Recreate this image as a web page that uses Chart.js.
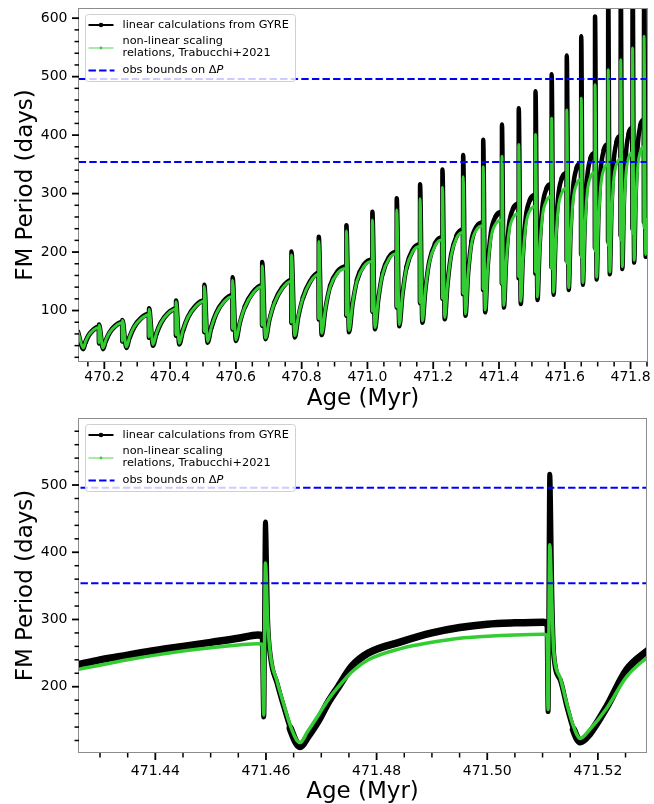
<!DOCTYPE html>
<html><head><meta charset="utf-8">
<script src="https://cdn.jsdelivr.net/npm/chart.js@4.4.1/dist/chart.umd.min.js"></script>
<style>
html,body{margin:0;padding:0;background:#fff;width:654px;height:804px;overflow:hidden}
canvas{position:absolute;left:0}
#c1{top:0}#c2{top:402px}
</style></head><body>
<canvas id="c1" width="654" height="420"></canvas>
<canvas id="c2" width="654" height="402"></canvas>
<script>
// ---------------- DATA ----------------
// Top panel: age (Myr), GYRE linear period (days), Trabucchi+2021 non-linear period (days)
const topAge = [
470.120,470.136,470.143,470.1525,470.1665,
470.183,470.1836,470.184,470.196,470.2047,470.2163,470.2337,
470.254,470.2546,470.255,470.267,470.2772,470.2908,470.3112,
470.335,470.3356,470.336,470.348,470.3584,470.3722,470.3929,
470.417,470.4176,470.418,470.428,470.4393,470.4543,470.4768,
470.503,470.5036,470.504,470.514,470.5253,470.5403,470.5628,
470.589,470.5896,470.590,470.600,470.6119,470.6277,470.6514,
470.679,470.6796,470.680,470.690,470.7017,470.7173,470.7407,
470.768,470.7686,470.769,470.779,470.7898,470.8042,470.8258,
470.851,470.8516,470.852,470.861,470.8721,470.8869,470.9091,
470.935,470.9356,470.936,470.944,470.9545,470.9685,470.9895,
471.014,471.0146,471.015,471.023,471.0328,471.0458,471.0653,
471.088,471.0886,471.089,471.097,471.1063,471.1187,471.1373,
471.159,471.1596,471.160,471.167,471.176,471.188,471.206,
471.227,471.2276,471.228,471.235,471.2433,471.2543,471.2708,
471.290,471.2906,471.291,471.298,471.306,471.3166,471.3325,
471.351,471.3516,471.352,471.358,471.3655,471.3755,471.3905,
471.408,471.4086,471.409,471.415,471.4216,471.4304,471.4436,
471.459,471.4596,471.460,471.4662,471.4728,471.4815,471.4947,
471.510,471.5106,471.511,471.517,471.5233,471.5317,471.5443,
471.559,471.5596,471.560,471.566,471.5719,471.5797,471.5914,
471.605,471.6056,471.606,471.612,471.6176,471.625,471.636,
471.649,471.6496,471.650,471.655,471.6604,471.6676,471.6784,
471.691,471.6916,471.692,471.697,471.7021,471.7089,471.7191,
471.731,471.7316,471.732,471.737,471.7418,471.7482,471.7578,
471.769,471.7696,471.770,471.775,471.7795,471.7855,471.7945,
471.805,471.8056,471.806,471.811,471.8154,471.8212,471.8298,
471.840,471.8406,471.841,471.846,471.852
];
const topGyre = [
64,34,46.2,57.6,67.1,
72,43.5,76,34,48.7,62.5,74,
80,47,84,36,54.6,72,86.5,
94,53.5,104,40,60.2,79.1,94.8,
103,57,117,42,66,88.5,107.3,
117,63,144,45,70.9,95.2,115.5,
126,67.5,157,48,78.4,106.9,130.7,
143,74,183,51,83.3,113.6,138.9,
152,78.5,201,54,89.2,122.2,149.7,
164,84.5,226,58,102.5,142.2,166.8,
175,91,246,63,110.1,152.3,178.3,
187,98,269,68,118.2,163,190.8,
200,105,292,73,126.2,173.8,203.2,
213,112.5,316,79,134.5,184.1,214.8,
225,120,341,85,143.1,195.2,227.3,
238,128,366,91,162.6,218.2,243.6,
250,135,392,97,174,233.8,261.2,
268,146,418,105,184.7,246.6,274.9,
282,155,446,111,194.7,259.8,289.6,
297,163,475,118,207.1,276.4,308,
316,174,504,127,220.6,293.4,326.7,
335,185,536,135,232.7,308.6,343.3,
352,196,569,144,245.3,324,360,
369,207,603,153,257,337.8,374.8,
384,217.5,650,162,268.2,350.8,388.6,
398,228,680,171,279.5,363.8,402.4,
412,239.5,710,182,291.8,377.2,416.2,
426,250.5,740,192,268
];
const topTrab = [
63,36,47.2,57.7,66.5,
71,45,75,36,49.8,62.7,73.4,
79,48,83,38,55.6,72.1,85.9,
93,55,102,42,61.2,79.2,94.2,
102,58.5,115,44,67,88.6,106.6,
116,64,141,47,71.6,94.7,114,
124,68.5,152,50,79.1,106.4,129.2,
141,75,176,53,84,113.1,137.4,
150,80,195,57,90.6,122.1,148.4,
162,86,218,61,103.2,140.9,164.2,
172,92.5,236,66,110.8,151,175.7,
184,99,255,71,118.9,161.7,188.2,
197,106,272,76,126.9,172.5,200.6,
210,114,291,82,134.8,182.1,211.3,
221,121,311,88,143.5,193.1,223.8,
234,129,329,94,162,214.8,239,
245,137,346,101,170.3,224.2,248.8,
255,146,364,109,179.7,234.6,259.7,
266,158,384,116,188.9,245.6,271.5,
278,166,401,123,200.4,260.6,288,
295,172,429,131,211.1,273.4,301.9,
309,181.5,443,139,222.3,287,316.6,
324,192,463,148,232.6,298.4,328.5,
336,202,486,157,243.9,311.4,342.3,
350,212,512,166,252.9,320.4,351.3,
359,221,529,175,262.8,331,362.2,
370,232,549,186,273.3,341.2,372.2,
380,242,569,196,256
];
// Bottom panel (zoom on two pulsation cycles)
const botAge = [
471.4255,471.430,471.435,471.440,471.445,471.450,471.455,471.4585,471.4593,
471.4596,471.4599,471.4603,471.4608,471.4620,471.4632,471.4644,471.4656,471.4662,
471.4675,471.4695,471.4712,471.4731,471.4755,471.4785,471.4845,471.490,471.495,
471.500,471.505,471.5102,471.5108,471.5110,471.5113,471.5117,471.5120,471.5132,
471.5144,471.5156,471.5168,471.5185,471.5216,471.5252,471.5295
];
const botGyre = [
232,240,247,254,260,266,272,277,276,
155,445,300,245,205,170,138,115,111,
125,150,176,200,230,250,267,280,288,
293,295,296,294,163,516,330,250,210,
170,136,118,130,170,225,257
];
const botTrab = [
225,232,240,247,253,258,262,264,263,
158,384,300,248,208,174,142,120,117,
133,158,180,200,222,240,257,266,272,
275,277,278,276,166,411,320,255,213,
174,141,123,136,168,215,248
];
const obsBounds = [354, 496];
const topXTicks = [470.2,470.4,470.6,470.8,471.0,471.2,471.4,471.6,471.8];
const topXMinor = [470.15,470.25,470.3,470.35,470.45,470.5,470.55,470.65,470.7,470.75,470.85,470.9,470.95,471.05,471.1,471.15,471.25,471.3,471.35,471.45,471.5,471.55,471.65,471.7,471.75,471.85];
const topYTicks = [100,200,300,400,500,600];
const topYMinor = [20,40,60,80,120,140,160,180,220,240,260,280,320,340,360,380,420,440,460,480,520,540,560,580];
const botXTicks = [471.44,471.46,471.48,471.50,471.52];
const botXMinor = [471.43,471.435,471.445,471.45,471.455,471.465,471.47,471.475,471.485,471.49,471.495,471.505,471.51,471.515,471.525];
const botYTicks = [200,300,400,500];
const botYMinor = [120,140,160,180,220,240,260,280,320,340,360,380,420,440,460,480,520,540,560,580];
const legendText = ['linear calculations from GYRE','non-linear scaling','relations, Trabucchi+2021','obs bounds on \u0394'];
const xTitle = 'Age (Myr)';
const yTitle = 'FM Period (days)';

// ---------------- drawing ----------------
const FONT = '"DejaVu Sans", sans-serif';
function pts(xs, ys){ return xs.map((x,i)=>({x:x, y:ys[i]})); }

const mpl = {
  id:'mpl',
  afterDraw(chart, args, o){
    const ctx = chart.ctx, a = chart.chartArea;
    const xs = chart.scales.x, ys = chart.scales.y;
    ctx.save();
    // legend
    const L = o.legend;
    ctx.beginPath();
    if (ctx.roundRect) ctx.roundRect(L.x+0.5, L.y+0.5, L.w, L.h, 3); else ctx.rect(L.x+0.5, L.y+0.5, L.w, L.h);
    ctx.fillStyle = 'rgba(255,255,255,0.8)'; ctx.fill();
    ctx.strokeStyle = '#d0d0d0'; ctx.lineWidth = 1; ctx.stroke();
    const hx0 = L.x+3.5, hx1 = L.x+28.5, hm = (hx0+hx1)/2;
    ctx.lineCap = 'butt';
    ctx.strokeStyle = '#000'; ctx.lineWidth = 2;
    ctx.beginPath(); ctx.moveTo(hx0, L.y+11); ctx.lineTo(hx1, L.y+11); ctx.stroke();
    ctx.fillStyle = '#000'; ctx.beginPath(); ctx.arc(hm, L.y+11, 2.3, 0, 2*Math.PI); ctx.fill();
    ctx.strokeStyle = '#95e495'; ctx.lineWidth = 1.6;
    ctx.beginPath(); ctx.moveTo(hx0, L.y+34); ctx.lineTo(hx1, L.y+34); ctx.stroke();
    ctx.fillStyle = '#3ccc3c'; ctx.beginPath(); ctx.arc(hm, L.y+34, 1.4, 0, 2*Math.PI); ctx.fill();
    ctx.strokeStyle = '#0000ff'; ctx.lineWidth = 2; ctx.setLineDash([7.4,3.2]);
    ctx.beginPath(); ctx.moveTo(hx0, L.y+56.5); ctx.lineTo(hx1+1, L.y+56.5); ctx.stroke();
    ctx.setLineDash([]);
    ctx.fillStyle = '#000'; ctx.textAlign = 'left'; ctx.textBaseline = 'middle';
    ctx.font = '11.3px ' + FONT;
    const tx = L.x + 37.5;
    ctx.fillText(legendText[0], tx, L.y+11);
    ctx.fillText(legendText[1], tx, L.y+27.5);
    ctx.fillText(legendText[2], tx, L.y+39.5);
    ctx.fillText(legendText[3], tx, L.y+56.5);
    const w3 = ctx.measureText(legendText[3]).width;
    ctx.font = 'italic 11.3px ' + FONT;
    ctx.fillText('P', tx + w3, L.y+56.5);
    // frame
    ctx.strokeStyle = '#8c8c8c'; ctx.lineWidth = 1;
    ctx.strokeRect(Math.round(a.left)-0.5, Math.round(a.top)+0.5, Math.round(a.right-a.left)+1, Math.round(a.bottom-a.top)-1);
    // ticks
    ctx.strokeStyle = '#000';
    const drawX = (vals, len, lw) => { ctx.lineWidth = lw; vals.forEach(v=>{ const p = xs.getPixelForValue(v); if (p < a.left-0.5 || p > a.right+0.5) return; ctx.beginPath(); ctx.moveTo(p, a.bottom); ctx.lineTo(p, a.bottom+len); ctx.stroke(); }); };
    const drawY = (vals, len, lw) => { ctx.lineWidth = lw; vals.forEach(v=>{ const p = ys.getPixelForValue(v); if (p < a.top-0.5 || p > a.bottom+0.5) return; ctx.beginPath(); ctx.moveTo(a.left, p); ctx.lineTo(a.left-len, p); ctx.stroke(); }); };
    drawX(o.xMajor, 7, 1.8); drawX(o.xMinor, 4.5, 1.5);
    drawY(o.yMajor, 7, 1.8); drawY(o.yMinor, 4.5, 1.5);
    // axis titles
    ctx.fillStyle = '#000'; ctx.font = '23px ' + FONT; ctx.textBaseline = 'alphabetic'; ctx.textAlign = 'center';
    ctx.fillText(xTitle, (a.left+a.right)/2, o.xTitleY);
    ctx.translate(o.yTitleX, (a.top+a.bottom)/2); ctx.rotate(-Math.PI/2);
    ctx.fillText(yTitle, 0, 0);
    ctx.restore();
  }
};

function makeChart(id, cfg){
  const steepW = (w) => (c) => {
    const dx = Math.abs(c.p1.x - c.p0.x), dy = Math.abs(c.p1.y - c.p0.y);
    return dy > 3*dx ? w : undefined;
  };
  const ds = [
    {label:'trab', data: pts(cfg.age, cfg.trab), borderColor:'#33cc33', borderWidth:cfg.gw, pointRadius:0, order:1, clip:0,
     cubicInterpolationMode:'monotone', borderJoinStyle:'round', borderCapStyle:'round'},
    {label:'gyre', data: pts(cfg.age, cfg.gyre), borderColor:'#000000', borderWidth:cfg.bw, pointRadius:0, order:2, clip:0,
     cubicInterpolationMode:'monotone', borderJoinStyle:'round', borderCapStyle:'round', segment:{borderWidth: steepW(cfg.bwSteep)}}
  ];
  obsBounds.forEach(b => ds.push({label:'obs', data:[{x:cfg.xmin-1,y:b},{x:cfg.xmax+1,y:b}], borderColor:'#0000ff', borderWidth:2, borderDash:[7.4,3.2], pointRadius:0, order:0, clip:0}));
  return new Chart(document.getElementById(id), {
    type:'line',
    data:{datasets:ds},
    options:{
      responsive:false, animation:false, devicePixelRatio:1,
      layout:{padding:{top:cfg.top, right:cfg.right, left:0, bottom:0}},
      plugins:{legend:{display:false}, tooltip:{enabled:false},
        mpl:{legend:cfg.legend, xMajor:cfg.xMajor, xMinor:cfg.xMinor, yMajor:cfg.yMajor, yMinor:cfg.yMinor, xTitleY:cfg.xTitleY, yTitleX:31.7}},
      scales:{
        x:{type:'linear', min:cfg.xmin, max:cfg.xmax,
          afterFit(s){ s.height = cfg.xh; s.paddingLeft = 0; s.paddingRight = 0; },
          afterBuildTicks(s){ s.ticks = cfg.xMajor.map(v=>({value:v})); },
          grid:{display:false, drawTicks:false}, border:{display:false},
          ticks:{padding:cfg.xpad, color:'#000', font:{family:FONT, size:14}, maxRotation:0, autoSkip:false, callback:v=>v.toFixed(cfg.xdec)}},
        y:{type:'linear', min:cfg.ymin, max:cfg.ymax,
          afterFit(s){ s.width = 79; s.paddingTop = 0; s.paddingBottom = 0; },
          afterBuildTicks(s){ s.ticks = cfg.yMajor.map(v=>({value:v})); },
          grid:{display:false, drawTicks:false}, border:{display:false},
          ticks:{padding:11.5, color:'#000', font:{family:FONT, size:14}, autoSkip:false, callback:v=>String(v)}}
      }
    },
    plugins:[mpl]
  });
}

makeChart('c1', {age:topAge, gyre:topGyre, trab:topTrab, bw:5, bwSteep:4.5, gw:3,
  xmin:470.123, xmax:471.85, ymin:12, ymax:617.4, top:8, right:7, xh:58, xpad:7, xdec:1,
  xMajor:topXTicks, xMinor:topXMinor, yMajor:topYTicks, yMinor:topYMinor,
  xTitleY:404.5, legend:{x:85, y:14, w:210, h:67}});
makeChart('c2', {age:botAge, gyre:botGyre, trab:botTrab, bw:7.5, bwSteep:5, gw:3.5,
  xmin:471.4262, xmax:471.5287, ymin:101.4, ymax:599.7, top:16, right:8, xh:51, xpad:9.6, xdec:2,
  xMajor:botXTicks, xMinor:botXMinor, yMajor:botYTicks, yMinor:botYMinor,
  xTitleY:396.3, legend:{x:85, y:22, w:210, h:67}});
</script>
</body></html>
